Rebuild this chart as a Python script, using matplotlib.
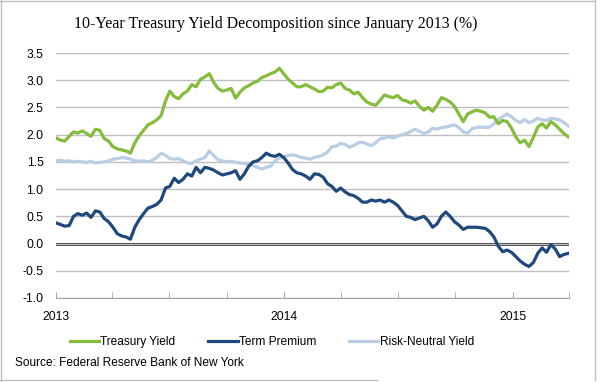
import pandas as pd
import matplotlib
matplotlib.use("Agg")
import matplotlib.pyplot as plt
import matplotlib.dates as mdates
from matplotlib.lines import Line2D

plt.rcParams['font.family'] = ['Liberation Sans', 'DejaVu Sans']
plt.rcParams['axes.unicode_minus'] = False

# weekly readings, Jan 2013 - Mar 2015
dates = pd.date_range('2013-01-01', periods=118, freq='7D')

treasury_yield = [
    1.94, 1.90, 1.88, 1.97, 2.05, 2.03, 2.07, 2.02, 1.97, 2.10,
    2.08, 1.93, 1.88, 1.78, 1.74, 1.72, 1.70, 1.66, 1.85, 1.98,
    2.08, 2.18, 2.22, 2.27, 2.35, 2.62, 2.80, 2.70, 2.66, 2.75,
    2.80, 2.92, 2.88, 3.02, 3.06, 3.12, 2.96, 2.85, 2.80, 2.82,
    2.85, 2.67, 2.78, 2.86, 2.90, 2.95, 2.98, 3.05, 3.08, 3.12,
    3.15, 3.22, 3.12, 3.02, 2.95, 2.88, 2.88, 2.92, 2.88, 2.84,
    2.79, 2.80, 2.87, 2.86, 2.92, 2.95, 2.85, 2.82, 2.75, 2.78,
    2.68, 2.60, 2.56, 2.54, 2.63, 2.73, 2.70, 2.68, 2.72, 2.64,
    2.62, 2.58, 2.62, 2.52, 2.45, 2.50, 2.43, 2.54, 2.68, 2.65,
    2.60, 2.52, 2.38, 2.24, 2.38, 2.42, 2.45, 2.43, 2.40, 2.32,
    2.33, 2.20, 2.26, 2.24, 2.12, 1.96, 1.85, 1.90, 1.78, 1.95,
    2.14, 2.20, 2.12, 2.24, 2.18, 2.10, 2.02, 1.96,
]

term_premium = [
    0.38, 0.35, 0.32, 0.33, 0.50, 0.55, 0.52, 0.56, 0.48, 0.60,
    0.58, 0.46, 0.40, 0.30, 0.18, 0.14, 0.12, 0.08, 0.30, 0.44,
    0.55, 0.65, 0.68, 0.72, 0.80, 1.02, 1.05, 1.20, 1.12, 1.18,
    1.28, 1.24, 1.40, 1.30, 1.40, 1.38, 1.35, 1.30, 1.26, 1.28,
    1.30, 1.34, 1.18, 1.28, 1.42, 1.50, 1.52, 1.58, 1.66, 1.62,
    1.60, 1.64, 1.58, 1.48, 1.36, 1.30, 1.28, 1.24, 1.18, 1.28,
    1.27, 1.22, 1.10, 1.05, 0.96, 1.02, 0.95, 0.90, 0.88, 0.83,
    0.76, 0.76, 0.80, 0.78, 0.80, 0.76, 0.80, 0.76, 0.70, 0.60,
    0.50, 0.48, 0.44, 0.47, 0.50, 0.42, 0.30, 0.36, 0.50, 0.58,
    0.50, 0.40, 0.34, 0.26, 0.30, 0.30, 0.30, 0.29, 0.28, 0.22,
    0.12, -0.05, -0.15, -0.12, -0.16, -0.24, -0.32, -0.38, -0.42, -0.35,
    -0.18, -0.08, -0.16, -0.02, -0.10, -0.24, -0.20, -0.18,
]

risk_neutral = [
    1.52, 1.53, 1.51, 1.52, 1.50, 1.51, 1.50, 1.49, 1.51, 1.48,
    1.49, 1.50, 1.52, 1.55, 1.56, 1.58, 1.57, 1.55, 1.52, 1.51,
    1.52, 1.50, 1.53, 1.58, 1.66, 1.62, 1.56, 1.55, 1.56, 1.52,
    1.48, 1.47, 1.52, 1.55, 1.58, 1.70, 1.62, 1.54, 1.52, 1.50,
    1.51, 1.49, 1.48, 1.47, 1.45, 1.43, 1.40, 1.37, 1.40, 1.42,
    1.52, 1.57, 1.59, 1.62, 1.63, 1.61, 1.58, 1.57, 1.55, 1.58,
    1.60, 1.63, 1.68, 1.78, 1.79, 1.84, 1.82, 1.77, 1.80, 1.85,
    1.86, 1.83, 1.80, 1.85, 1.92, 1.94, 1.96, 1.94, 1.97, 2.00,
    2.02, 2.06, 2.10, 2.06, 2.02, 2.05, 2.12, 2.10, 2.13, 2.14,
    2.16, 2.18, 2.13, 2.05, 2.03, 2.11, 2.13, 2.14, 2.13, 2.14,
    2.20, 2.28, 2.33, 2.38, 2.33, 2.26, 2.22, 2.28, 2.22, 2.25,
    2.30, 2.27, 2.26, 2.30, 2.29, 2.27, 2.22, 2.16,
]

labels = ['Treasury Yield', 'Term Premium', 'Risk-Neutral Yield']
colors = ['#86BC3C', '#1F497D', '#B9CDE5']

fig = plt.figure(figsize=(6, 3.82), dpi=100)
ax = fig.add_axes([56/600, 1-298/382, 513/600, 245/382])

ax.plot(dates, treasury_yield, color=colors[0], lw=2.3, label=labels[0], zorder=3)
ax.plot(dates, term_premium, color=colors[1], lw=2.3, label=labels[1], zorder=4)
ax.plot(dates, risk_neutral, color=colors[2], lw=2.3, label=labels[2], zorder=2)
ax.axhline(0, color='black', lw=1.8, zorder=1)

ax.set_ylim(-1, 3.5)
ax.set_yticks([-1 + 0.5*k for k in range(10)])
ax.yaxis.set_major_formatter(plt.FormatStrFormatter('%.1f'))
ax.set_xlim(pd.Timestamp('2013-01-01'), pd.Timestamp('2015-04-01'))
ax.xaxis.set_major_locator(mdates.YearLocator())
ax.xaxis.set_major_formatter(mdates.DateFormatter('%Y'))
ax.xaxis.set_minor_locator(mdates.MonthLocator(bymonth=[1, 4, 7, 10]))

ax.grid(axis='y', color='#BFBFBF', lw=1)
for s in ['top', 'right', 'left']:
    ax.spines[s].set_visible(False)
ax.spines['bottom'].set_color('#A6A6A6')
ax.tick_params(axis='y', length=0, pad=9, labelsize=8.7)
ax.tick_params(axis='x', which='both', direction='in', length=4, color='#A6A6A6', pad=9, labelsize=8.7)

fig.text(276/600, 1-24/382, '10-Year Treasury Yield Decomposition since January 2013 (%)',
         family='Liberation Serif', fontsize=11.4, ha='center', va='center')

fig.legend(loc='center left', bbox_to_anchor=(70/600, 1-342/382), ncol=3, frameon=False,
           fontsize=8.6, handlelength=2.45, handletextpad=0.1, columnspacing=2.75,
           borderpad=0, borderaxespad=0)

fig.text(15/600, 1-363/382, 'Source: Federal Reserve Bank of New York', fontsize=8.6, va='center')

# light frame
fc = '#BFBFBF'
fig.add_artist(Line2D([1/600, 1/600], [0, 1], color=fc, lw=1))
fig.add_artist(Line2D([0, 595/600], [1-1/382, 1-1/382], color=fc, lw=1))
fig.add_artist(Line2D([595/600, 595/600], [1-380/382, 1], color=fc, lw=1))
fig.add_artist(Line2D([0, 377/600], [1-380/382, 1-380/382], color=fc, lw=1))

fig.savefig('out.png', dpi=100)
